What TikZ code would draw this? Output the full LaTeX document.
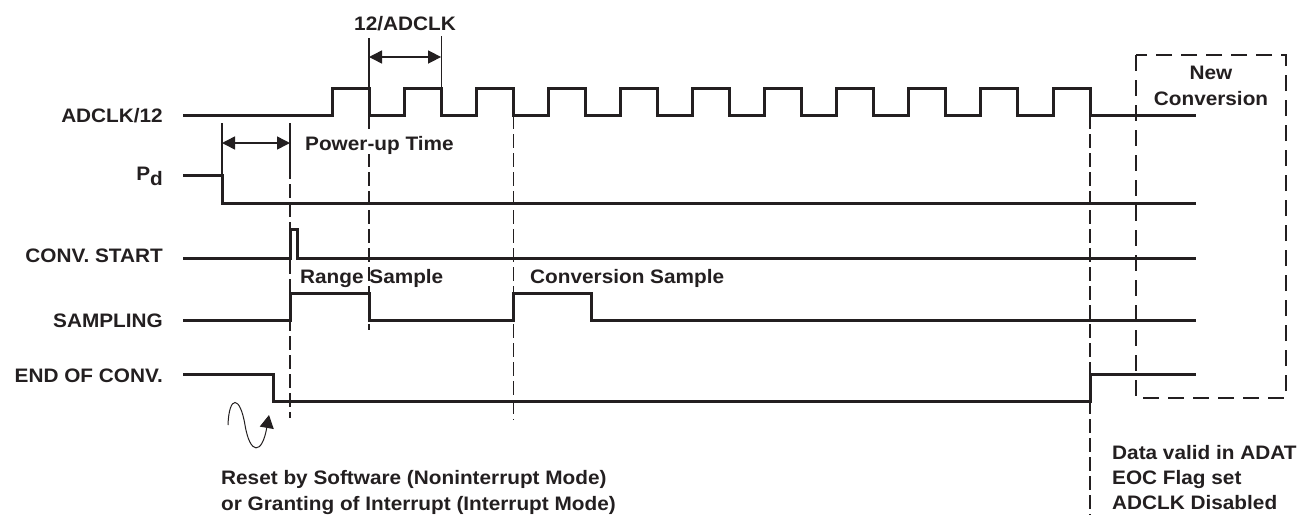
\documentclass[tikz,border=0pt]{standalone}
\usepackage{fontspec}
\setmainfont{Liberation Sans}[FakeStretch=1.065]
\usetikzlibrary{arrows.meta}
\definecolor{ink}{HTML}{231F20}
\begin{document}
\begin{tikzpicture}[x=1pt,y=-1pt,
  lbl/.style={font=\fontsize{19.5}{24}\selectfont\bfseries, text=ink, inner sep=0pt, text height=14pt, text depth=0pt},
  sig/.style={line width=3pt, draw=ink, line join=miter},
  guide/.style={line width=1.2pt, draw=ink, dash pattern=on 14pt off 5pt},
  tickln/.style={line width=1.2pt, draw=ink},
  dim/.style={line width=1.5pt, draw=ink, {Triangle[length=13pt,width=13pt]}-{Triangle[length=13pt,width=13pt]}},
  newbox/.style={line width=2pt, draw=ink, dash pattern=on 16pt off 9pt}]

\useasboundingbox (0,0) rectangle (1314,515);

% signal labels
\node[lbl, anchor=east] (lclk) at (163,115) {ADCLK/12};
\node[lbl, anchor=east] (lpd) at (163,173) {P\raisebox{-5.5pt}{d}};
\node[lbl, anchor=east] (lcs) at (163,255) {CONV. START};
\node[lbl, anchor=east] (lsm) at (163,320) {SAMPLING};
\node[lbl, anchor=east] (leoc) at (163,375) {END OF CONV.};

% ADCLK/12
\draw[sig] (183,115) \foreach \k in {0,...,10}{ -- ({332+72.1*\k},115) -- ({332+72.1*\k},88) -- ({369+72.1*\k},88) -- ({369+72.1*\k},115)} -- (1196,115);
% Pd
\draw[sig] (183,175) -- (222,175) -- (222,203) -- (1196,203);
% CONV. START
\draw[sig] (183,258) -- (290,258) -- (290,229) -- (297,229) -- (297,258) -- (1196,258);
% SAMPLING
\draw[sig] (183,320) -- (290,320) -- (290,293) -- (369,293) -- (369,320) -- (513,320) -- (513,293) -- (591,293) -- (591,320) -- (1196,320);
% END OF CONV.
\draw[sig] (183,374) -- (273,374) -- (273,401) -- (1090,401) -- (1090,374) -- (1196,374);

% reference coordinates
\coordinate (pA) at (222,143);
\coordinate (pB) at (290,143);
\coordinate (cA) at (369,57);
\coordinate (cB) at (441.1,57);

% marker ticks
\draw[tickln] (222,123) -- (222,175);
\draw[tickln] (290,123) -- (290,165);
\draw[tickln] (369,38) -- (369,88);
\draw[tickln] (441.1,36) -- (441.1,88);
% dashed guides
\draw[guide] (290,165) -- (290,418);
\draw[guide] (369,115) -- (369,330);
\draw[guide] (513.2,115) -- (513.2,420);
\draw[guide] (1090,115) -- (1090,515);

% dimension arrows
\draw[dim] (cA) -- (cB);
\draw[dim] (pA) -- (pB);
\node[lbl] (t12) at (405,23) {12/ADCLK};
\node[lbl, anchor=west, fill=white, inner ysep=4pt] (tpu) at (305,143) {Power-up Time};

% sample labels
\node[lbl, anchor=west] (trs) at (300,276) {Range Sample};
\node[lbl, anchor=west] (tcs) at (530,276) {Conversion Sample};

% new conversion box
\draw[newbox] (1136,55) rectangle (1286,398);
\node[lbl] (tnew) at (1211,72) {New};
\node[lbl] (tconv) at (1211,98) {Conversion};

% reset curve
\draw[line width=1pt, draw=ink, -{Triangle[length=13pt,width=14pt]}] (228,425) .. controls (229,395) and (240,395) .. (245,425) .. controls (250,455) and (262,455) .. (269,415);

% bottom texts
\node[lbl, anchor=west] (tres1) at (221,477) {Reset by Software (Noninterrupt Mode)};
\node[lbl, anchor=west] (tres2) at (221,503) {or Granting of Interrupt (Interrupt Mode)};
\node[lbl, anchor=west] (td1) at (1112,452) {Data valid in ADAT};
\node[lbl, anchor=west] (td2) at (1112,477) {EOC Flag set};
\node[lbl, anchor=west] (td3) at (1112,502) {ADCLK Disabled};
\end{tikzpicture}
\end{document}
